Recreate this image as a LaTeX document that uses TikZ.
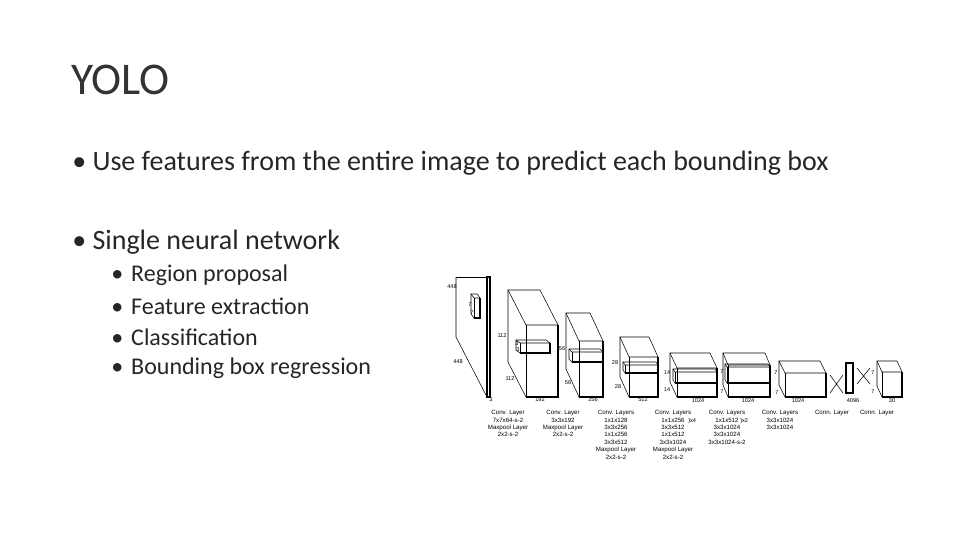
\documentclass[tikz,border=0pt]{standalone}
\usepackage{fontspec}
\setmainfont{Carlito}
\newfontfamily\dgf{Liberation Sans}
\newcommand\cub[6]{%
 \draw[cubl] ({#1+#5},{#2+#6}) -- ({#3+#5},{#2+#6}) -- (#3,#2) -- (#3,#4) -- (#1,#4) -- ({#1+#5},{#4+#6}) -- cycle;
 \draw[cubl] ({#1+#5},{#2+#6}) -- (#1,#2) -- (#3,#2);
 \draw[cubl] (#1,#2) -- (#1,#4);
 \draw[line width=0.8pt] (#3,#2) -- (#3,#4) -- (#1,#4);}
\begin{document}
\begin{tikzpicture}[x=0.75pt,y=-0.75pt,
 cubl/.style={line width=0.4pt},
 sm/.style={font=\dgf\fontsize{4.2}{5}\selectfont,inner sep=0pt,align=center},
 lab/.style={font=\dgf\fontsize{4.6}{5.6}\selectfont,inner sep=0pt,align=center,anchor=north},
 body/.style={font=\fontsize{21}{25}\selectfont,anchor=west,inner sep=0pt,text=black!85},
 sub/.style={font=\fontsize{18}{22}\selectfont,anchor=west,inner sep=0pt,text=black!85}]
\useasboundingbox (0,0) rectangle (960,540);
\node[anchor=west,inner sep=0pt,font=\fontsize{34}{40}\selectfont,text=black!80] (title) at (71,80) {YOLO};
\node[body] (b1) at (72,163) {• Use features from the entire image to predict each bounding box};
\node[body] (b2) at (72,242) {• Single neural network};
\node[sub] (s1) at (111,275) {•\hspace{6pt}Region proposal};
\node[sub] (s2) at (111,306) {•\hspace{6pt}Feature extraction};
\node[sub] (s3) at (111,337) {•\hspace{6pt}Classification};
\node[sub] (s4) at (111,368) {•\hspace{6pt}Bounding box regression};
% block 1 slab
\draw[cubl] (456,277) -- (456,337) -- (487,397);
\draw[cubl] (456,277) -- (487,277);
\draw[line width=0.8pt] (487,277) rectangle (490,397);
\cub{474}{298}{480}{318}{-3}{-4}
% blocks
\cub{526}{325}{558}{397}{-18}{-35}
\cub{520}{343}{550}{353}{-4}{-3}
\cub{579}{341}{603}{397}{-13}{-28}
\cub{572}{352}{603}{362}{-3}{-3}
\cub{629}{357}{658}{397}{-9}{-20}
\cub{625}{365}{658}{373}{-2}{-3}
\cub{677}{368}{717}{397}{-7}{-15}
\cub{675}{372}{717}{383}{-2}{-3}
\cub{728}{365}{770}{397}{-5}{-12}
\cub{727}{367}{770}{383}{-2}{-3}
\cub{785}{373}{826}{397}{-6}{-12}
% crosses
\coordinate (c1a) at (830,375); \coordinate (c1b) at (843,393);
\coordinate (c1c) at (830,393); \coordinate (c1d) at (843,375);
\draw[line width=0.4pt] (c1a) -- (c1b) (c1c) -- (c1d);
\draw[line width=0.8pt] (846,363) rectangle (853,393);
\draw[line width=0.4pt] (857,368) -- (870,384) (857,384) -- (870,368);
\cub{882}{372}{902}{397}{-5}{-11}
% dims
\node[sm] at (452,287) {448}; \node[sm] at (458,362) {448};
\node[sm] at (470,305) {7}; \node[sm] at (472,313) {7};
\node[sm] at (502,336) {112}; \node[sm] at (510,379) {112};
\node[sm] at (517,344) {3}; \node[sm] at (518,350) {3};
\node[sm] at (562,349) {56}; \node[sm] at (568,383) {56};
\node[sm] at (615,363) {28}; \node[sm] at (618,387) {28};
\node[sm] at (667,373) {14}; \node[sm] at (667,390) {14};
\node[sm] at (722,372) {7}; \node[sm] at (722,392) {7};
\node[sm] at (776,373) {7}; \node[sm] at (777,393) {7};
\node[sm] at (873,373) {7}; \node[sm] at (873,392) {7};
\node[sm] at (491,400) {3}; \node[sm] at (540,400) {192};
\node[sm] at (593,400) {256}; \node[sm] at (643,400) {512};
\node[sm] at (698,401) {1024}; \node[sm] at (748,401) {1024};
\node[sm] at (798,401) {1024}; \node[sm] at (853,401) {4096};
\node[sm] at (892,401) {30};
% labels
\node[lab] (l1) at (508,410) {Conv. Layer\\7x7x64-s-2\\Maxpool Layer\\2x2-s-2};
\node[lab] (l2) at (563,410) {Conv. Layer\\3x3x192\\Maxpool Layer\\2x2-s-2};
\node[lab] (l3) at (616,410) {Conv. Layers\\1x1x128\\3x3x256\\1x1x256\\3x3x512\\Maxpool Layer\\2x2-s-2};
\node[lab] (l4) at (673,410) {Conv. Layers\\1x1x256\\3x3x512\\1x1x512\\3x3x1024\\Maxpool Layer\\2x2-s-2};
\node[sm,anchor=west] at (688,421) {\}x4};
\node[lab] (l5) at (727,410) {Conv. Layers\\1x1x512\\3x3x1024\\3x3x1024\\3x3x1024-s-2};
\node[sm,anchor=west] at (740,421) {\}x2};
\node[lab] (l6) at (780,410) {Conv. Layers\\3x3x1024\\3x3x1024};
\node[lab] (l7) at (832,410) {Conn. Layer};
\node[lab] (l8) at (877,410) {Conn. Layer};
\end{tikzpicture}
\end{document}
